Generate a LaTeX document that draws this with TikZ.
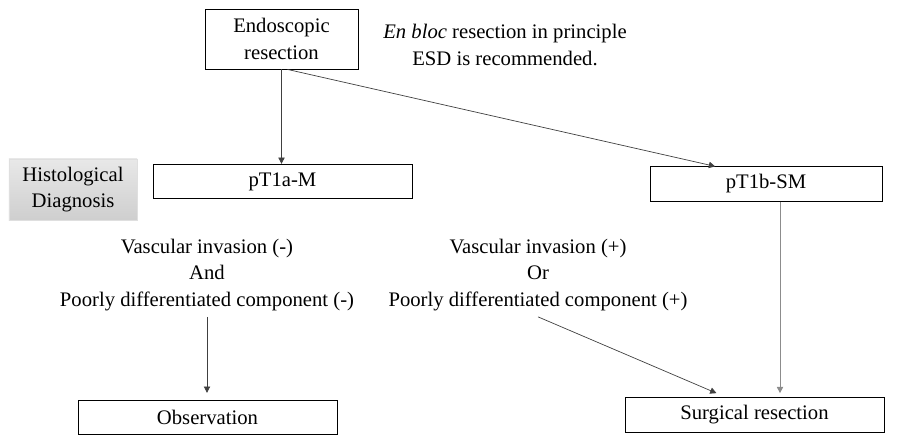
\documentclass[tikz,border=0pt]{standalone}
\usepackage{fontspec}
\setmainfont{Liberation Serif}
\usepackage{tikz}
\usetikzlibrary{shapes.geometric, arrows.meta, positioning}

\begin{document}
\begin{tikzpicture}[
			x=0.025cm, y=-0.025cm,
			every node/.style={align=center, font=\fontsize{14.7}{18.6}\selectfont, inner sep=0pt},
			box/.style={draw, rectangle, line width=0.6pt, minimum width=6.475cm, minimum height=0.86cm},
			label/.style={fill=gray!30, top color=gray!18, bottom color=gray!38, draw=gray!25, minimum width=3.2cm, minimum height=1.525cm},
			arrow/.style={-{Triangle[width=4.5pt,length=4.5pt]}, line width=0.5pt, draw=black!75}
			]
			\useasboundingbox (0,0) rectangle (897,435);
			
			% Nodes
			\node (endo) [box, minimum width=3.825cm, minimum height=1.5cm] at (281.5,39) {Endoscopic\\resection};
			\node (note) at (505,45) {\textit{En bloc} resection in principle\\ESD is recommended.};
			\node (histo) [label] at (73,189.5) {Histological\\Diagnosis};
			\node (pta) [box] at (282.5,181.5) {pT1a-M};
			\node (ptb) [box, minimum width=5.8cm] at (766,184) {pT1b-SM};
			\node (negcond) at (207,275) {Vascular invasion (-)\\And\\Poorly differentiated component (-)};
			\node (poscond) at (538,275) {Vascular invasion (+)\\Or\\Poorly differentiated component (+)};
			\node (obs) [box] at (207.5,417.5) {Observation};
			\node (surg) [box] at (754.5,415) {Surgical resection};
			
			% Connections
			\draw [arrow] (endo.south) -- (endo.south |- pta.north);
			\draw [arrow] ([xshift=0.15cm]endo.south) -- ([xshift=-1.27cm]ptb.north);
			\draw [arrow, draw=black!45] ([xshift=0.35cm]ptb.south) -- ([xshift=0.35cm, yshift=3pt]ptb.south |- surg.north);
			\draw [arrow] ([yshift=-0.15cm]negcond.south) -- ([yshift=5pt]negcond.south |- obs.north);
			\draw [arrow] ([yshift=-0.15cm]poscond.south) -- ([xshift=-0.95cm, yshift=3pt]surg.north);
			
		\end{tikzpicture}
\end{document}
